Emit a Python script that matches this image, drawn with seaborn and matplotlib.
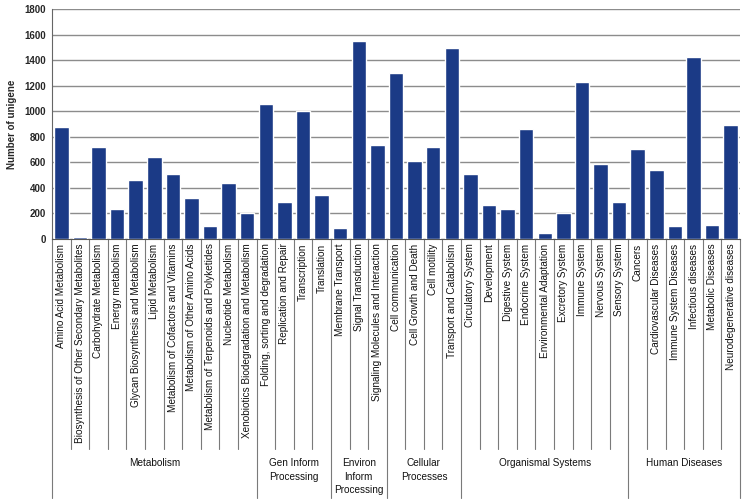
import matplotlib
matplotlib.use("Agg")
import matplotlib.pyplot as plt
import seaborn as sns
import pandas as pd

categories = [
    "Amino Acid Metabolism", "Biosynthesis of Other Secondary Metabolites",
    "Carbohydrate Metabolism", "Energy metabolism",
    "Glycan Biosynthesis and Metabolism", "Lipid Metabolism",
    "Metabolism of Cofactors and Vitamins", "Metabolism of Other Amino Acids",
    "Metabolism of Terpenoids and Polyketides", "Nucleotide Metabolism",
    "Xenobiotics Biodegradation and Metabolism",
    "Folding, sorting and degradation", "Replication and Repair",
    "Transcription", "Translation",
    "Membrane Transport", "Signal Transduction",
    "Signaling Molecules and Interaction",
    "Cell communication", "Cell Growth and Death", "Cell motility",
    "Transport and Catabolism",
    "Circulatory System", "Development", "Digestive System",
    "Endocrine System", "Environmental Adaptation", "Excretory System",
    "Immune System", "Nervous System", "Sensory System",
    "Cancers", "Cardiovascular Diseases", "Immune System Diseases",
    "Infectious diseases", "Metabolic Diseases", "Neurodegenerative diseases",
]
values = [
    879, 18, 720, 232, 459, 644, 511, 318, 99, 441, 203,
    1054, 287, 999, 342,
    86, 1550, 736,
    1297, 608, 717, 1498,
    509, 266, 232, 858, 47, 201, 1231, 584, 287,
    707, 540, 99, 1427, 110, 892,
]
groups = ["Metabolism", "Gen Inform\nProcessing", "Environ\nInform\nProcessing",
          "Cellular\nProcesses", "Organismal Systems", "Human Diseases"]
group_sizes = [11, 4, 3, 4, 9, 6]

sns.set_style("white")
plt.rcParams["font.family"] = ["Liberation Sans", "DejaVu Sans"]

df = pd.DataFrame({"Pathway": categories, "Count": values})

fig = plt.figure(figsize=(7.44, 5.04), dpi=100)
ax = fig.add_axes([52 / 744, 265 / 504, 688 / 744, 230 / 504])

sns.barplot(data=df, x="Pathway", y="Count", color="#1b3a86", width=0.78,
            saturation=1, ax=ax, zorder=3)

ax.set_xlim(-0.5, len(categories) - 0.5)
ax.set_ylim(0, 1800)
ax.set_yticks(range(0, 1801, 200))
ax.yaxis.grid(True, color="#8c8c8c", linewidth=1.0, zorder=0)
ax.set_xticks([])
ax.set_xlabel("")
ax.set_ylabel("Number of unigene", fontsize=7, fontweight="bold", labelpad=5)
ax.tick_params(axis="y", labelsize=7, length=2.5, width=0.8, color="#666666", pad=2)
for t in ax.get_yticklabels():
    t.set_fontweight("bold")

for side in ["top", "right"]:
    ax.spines[side].set_visible(False)
ax.spines["left"].set_color("#666666")
ax.spines["bottom"].set_color("#555555")
ax.spines["left"].set_linewidth(0.8)
ax.spines["bottom"].set_linewidth(0.8)

tr = ax.get_xaxis_transform()

# category labels
for i, name in enumerate(categories):
    ax.text(i, -0.02, name, rotation=90, ha="center", va="top", fontsize=7.2,
            color="#111111", transform=tr, clip_on=False)

# separators
minor_bottom = -210 / 230
major_bottom = -259 / 230
bounds = [0]
for s in group_sizes:
    bounds.append(bounds[-1] + s)
for b in range(len(categories) + 1):
    bottom = major_bottom if b in bounds else minor_bottom
    ax.plot([b - 0.5, b - 0.5], [0, bottom], color="#7a7a7a", linewidth=0.8,
            transform=tr, clip_on=False)

# group labels
for g, start, size in zip(groups, bounds[:-1], group_sizes):
    center = start + size / 2 - 0.5
    ax.text(center, -219 / 230, g, ha="center", va="top", fontsize=7.2,
            linespacing=1.45, color="#111111", transform=tr, clip_on=False)

fig.savefig("out.png", dpi=100)
